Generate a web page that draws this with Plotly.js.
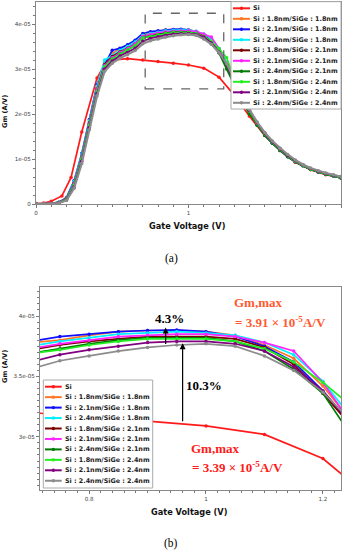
<!DOCTYPE html>
<html><head><meta charset="utf-8">
<script src="https://cdn.plot.ly/plotly-3.0.1.min.js"></script>
<style>html,body{margin:0;padding:0;background:#fff;}#chart{width:342px;height:551px;}</style>
</head><body><div id="chart"></div>
<script>
// ---- data (Gm in units of 1e-5 A/V) ----
const seriesNames = ['Si','Si : 1.8nm/SiGe : 1.8nm','Si : 2.1nm/SiGe : 1.8nm','Si : 2.4nm/SiGe : 1.8nm',
  'Si : 1.8nm/SiGe : 2.1nm','Si : 2.1nm/SiGe : 2.1nm','Si : 2.4nm/SiGe : 2.1nm',
  'Si : 1.8nm/SiGe : 2.4nm','Si : 2.1nm/SiGe : 2.4nm','Si : 2.4nm/SiGe : 2.4nm'];
const seriesColors = ['#ff1a1a','#ff7722','#1010ff','#00f0ff','#7a0000','#ff22ff','#007a00','#22ee22','#800080','#8c8c8c'];

const vSi  = [0,0.05,0.1,0.17,0.23,0.3,0.4,0.45,0.5,0.6,0.7,0.8,0.9,1.0,1.1,1.2,1.3,1.4,1.5,1.6,1.7,1.8,1.9,2.0];
const gmSi = [0.01,0.02,0.06,0.18,0.59,1.6,2.8,3.1,3.2,3.23,3.2,3.17,3.13,3.09,3.02,2.82,2.42,1.95,1.52,1.19,0.93,0.76,0.65,0.58];

const vGrid = [0,0.05,0.1,0.15,0.2,0.25,0.3,0.35,0.4,0.45,0.5,0.55,0.6,0.65,0.7,0.75,0.8,0.85,0.9,0.95,
  1.0,1.05,1.1,1.15,1.2,1.25,1.3,1.35,1.4,1.45,1.5,1.55,1.6,1.65,1.7,1.75,1.8,1.85,1.9,1.95,2.0];

const gm18_18 = [0,0.005,0.01,0.04,0.13,0.5,1.1,1.85,2.6,3.15,3.35,3.45,3.53,3.63,3.78,3.80,3.84,3.87,3.88,3.88,
  3.87,3.84,3.76,3.65,3.42,3.12,2.72,2.36,2.04,1.78,1.55,1.37,1.21,1.07,0.95,0.86,0.78,0.72,0.67,0.63,0.59];
const gm21_18 = [0,0.005,0.01,0.04,0.14,0.52,1.12,1.88,2.65,3.1,3.42,3.46,3.54,3.64,3.79,3.83,3.85,3.87,3.88,3.885,
  3.87,3.83,3.75,3.62,3.38,3.08,2.7,2.34,2.02,1.76,1.53,1.35,1.19,1.05,0.94,0.85,0.77,0.71,0.66,0.62,0.58];
const gm24_18 = [0,0.005,0.01,0.04,0.13,0.5,1.1,1.85,2.62,3.2,3.3,3.42,3.5,3.6,3.75,3.79,3.82,3.85,3.86,3.87,
  3.86,3.84,3.78,3.68,3.46,3.15,2.74,2.38,2.05,1.78,1.55,1.37,1.21,1.07,0.95,0.86,0.78,0.72,0.67,0.63,0.59];
const gm18_21 = [0,0.005,0.01,0.035,0.12,0.46,1.05,1.8,2.55,3.1,3.28,3.38,3.46,3.56,3.72,3.76,3.79,3.81,3.83,3.83,
  3.83,3.81,3.74,3.6,3.36,3.08,2.7,2.35,2.04,1.77,1.55,1.36,1.2,1.06,0.95,0.86,0.78,0.72,0.67,0.63,0.59];
const gm21_21 = [0,0.004,0.008,0.03,0.11,0.45,1.04,1.78,2.55,3.08,3.25,3.36,3.45,3.56,3.73,3.77,3.80,3.83,3.84,3.85,
  3.85,3.83,3.78,3.71,3.45,3.10,2.76,2.4,2.06,1.8,1.57,1.38,1.22,1.08,0.96,0.87,0.79,0.73,0.68,0.64,0.61];
const gm24_21 = [0,0.004,0.008,0.03,0.1,0.42,1.0,1.75,2.5,3.05,3.22,3.33,3.42,3.52,3.69,3.73,3.77,3.8,3.82,3.82,
  3.82,3.79,3.71,3.56,3.36,3.0,2.64,2.3,2.0,1.75,1.53,1.35,1.19,1.05,0.94,0.85,0.77,0.71,0.66,0.62,0.58];
const gm18_24 = [0,0.004,0.008,0.03,0.1,0.42,1.0,1.75,2.5,3.05,3.22,3.33,3.42,3.52,3.69,3.72,3.76,3.79,3.81,3.81,
  3.81,3.79,3.73,3.62,3.45,3.25,2.8,2.4,2.06,1.79,1.56,1.37,1.21,1.07,0.95,0.86,0.78,0.72,0.67,0.63,0.59];
const gm21_24 = [0,0.003,0.007,0.025,0.09,0.38,0.95,1.7,2.45,3.0,3.18,3.29,3.37,3.46,3.62,3.68,3.72,3.75,3.78,3.79,
  3.79,3.77,3.71,3.58,3.38,3.1,2.75,2.4,2.08,1.8,1.57,1.38,1.22,1.08,0.96,0.87,0.79,0.73,0.68,0.64,0.6];
const gm24_24 = [0,0.003,0.006,0.02,0.08,0.35,0.9,1.65,2.4,2.95,3.13,3.24,3.32,3.41,3.56,3.63,3.67,3.71,3.74,3.76,
  3.77,3.75,3.67,3.55,3.37,3.12,2.78,2.43,2.1,1.82,1.59,1.4,1.24,1.1,0.98,0.88,0.8,0.74,0.69,0.65,0.61];

const fullXTicks = [0,1,2], fullXText = ['0','1','2'];
const fullYTicks = [0,1,2,3,4], fullYText = ['0','1e-05','2e-05','3e-05','4e-05'];
const zoomXTicks = [0.8,1,1.2], zoomXText = ['0.8','1','1.2'];
const zoomYTicks = [3,3.5,4], zoomYText = ['3e-05','3.5e-05','4e-05'];
const zoomXRange = [0.716,1.231], zoomYRange = [2.56,4.24];

// ---- build ----
const W=342, H=551;
const px = x => x/W, py = y => 1 - y/H;
const xs = [vSi,vGrid,vGrid,vGrid,vGrid,vGrid,vGrid,vGrid,vGrid,vGrid];
const ys = [gmSi,gm18_18,gm21_18,gm24_18,gm18_21,gm21_21,gm24_21,gm18_24,gm21_24,gm24_24];
const traces = [];
[['x','y'],['x2','y2']].forEach(([xa,ya])=>{
  ys.forEach((y,i)=>{
    traces.push({x:xs[i], y:y, xaxis:xa, yaxis:ya, type:'scatter', mode:'lines+markers',
      name:seriesNames[i], showlegend:false,
      line:{color:seriesColors[i], width:(i===9 && xa==='x') ? 2.2 : 1.7}, marker:{color:seriesColors[i], size:3.5}});
  });
});

const shapes = [], annotations = [];
shapes.push({type:'rect', xref:'x', yref:'y', x0:zoomXRange[0], x1:zoomXRange[1], y0:zoomYRange[0], y1:zoomYRange[1],
  line:{color:'#666', width:1.3, dash:'dash'}, layer:'above'});

function legendBox(left, top, right, bottom, row0, step, lx0, lx1, tx){
  shapes.push({type:'rect', xref:'paper', yref:'paper', x0:px(left), x1:px(right), y0:py(bottom), y1:py(top),
    fillcolor:'#fff', line:{color:'#aaa', width:1}, layer:'above'});
  seriesNames.forEach((n,i)=>{
    const y = row0 + step*i;
    shapes.push({type:'line', xref:'paper', yref:'paper', x0:px(lx0), x1:px(lx1), y0:py(y), y1:py(y),
      line:{color:seriesColors[i], width:2}, layer:'above'});
    const mx=(lx0+lx1)/2, r=1.7;
    shapes.push({type:'circle', xref:'paper', yref:'paper', x0:px(mx-r), x1:px(mx+r), y0:py(y+r), y1:py(y-r),
      fillcolor:seriesColors[i], line:{width:0}, layer:'above'});
    annotations.push({xref:'paper', yref:'paper', x:px(tx), y:py(y), xanchor:'left', yanchor:'middle',
      text:'<b>'+n+'</b>', showarrow:false, font:{family:'DejaVu Sans', size:6.4, color:'#222'}});
  });
}
legendBox(231, 1.7, 341, 109, 8.3, 10.5, 233, 250, 251);
legendBox(43.3, 380, 152.7, 488, 386.7, 10.45, 45, 61.7, 63);

const titleFont = {family:'DejaVu Sans', size:8.2, color:'#111'};
const yTitleFont = {family:'DejaVu Sans', size:6.6, color:'#111'};
const serif = 'Liberation Serif';
function txt(x, y, text, font, xa, extra){
  return Object.assign({xref:'paper', yref:'paper', x:px(x), y:py(y), text:text, showarrow:false,
    xanchor:xa||'center', yanchor:'middle', font:font}, extra||{});
}
annotations.push(
  txt(5, 112, '<b>Gm (A/V)</b>', yTitleFont, 'center', {textangle:-90}),
  txt(5, 367, '<b>Gm (A/V)</b>', yTitleFont, 'center', {textangle:-90}),
  txt(187, 226, '<b>Gate Voltage (V)</b>', titleFont),
  txt(189, 512, '<b>Gate Voltage (V)</b>', titleFont),
  txt(171, 258, '(a)', {family:serif, size:11.5, color:'#000'}),
  txt(171, 543, '(b)', {family:serif, size:11.5, color:'#000'}),
  txt(169, 318, '<b>4.3%</b>', {family:serif, size:13, color:'#000'}),
  txt(203.5, 385, '<b>10.3%</b>', {family:serif, size:13, color:'#000'}),
  txt(232, 302, '<b>Gm,max</b>', {family:serif, size:13, color:'#ff5a30'}, 'left'),
  txt(233, 322, '<b>= 3.91 × 10<sup>-5</sup>A/V</b>', {family:serif, size:13, color:'#ff5a30'}, 'left'),
  txt(188.5, 448, '<b>Gm,max</b>', {family:serif, size:13, color:'#ff1a1a'}, 'left'),
  txt(190, 467, '<b>= 3.39 × 10<sup>-5</sup>A/V</b>', {family:serif, size:13, color:'#ff1a1a'}, 'left'),
  {xref:'x2', yref:'y2', axref:'x2', ayref:'y2', x:0.931, y:3.905, ax:0.931, ay:3.755, text:'', showarrow:true,
    arrowhead:2, arrowsize:1, arrowwidth:1.2, arrowcolor:'#000', standoff:0, startstandoff:0},
  {xref:'x2', yref:'y2', axref:'x2', ayref:'y2', x:0.960, y:3.775, ax:0.960, ay:3.116, text:'', showarrow:true,
    arrowhead:2, arrowsize:1, arrowwidth:1.2, arrowcolor:'#000', standoff:0, startstandoff:0}
);

const tickFont = {family:'DejaVu Sans', size:5.6, color:'#444'};
const axCommon = {showline:true, linecolor:'#888', linewidth:1, mirror:true, zeroline:false, showgrid:false,
  ticks:'outside', ticklen:3, tickwidth:1, tickcolor:'#777', tickfont:tickFont, tickmode:'array'};

const layout = {
  width:W, height:H, margin:{l:0,r:0,t:0,b:0}, paper_bgcolor:'#fff', plot_bgcolor:'#fff', showlegend:false,
  xaxis:Object.assign({}, axCommon, {domain:[px(36),px(341)], anchor:'y', range:[0,2], tickvals:fullXTicks, ticktext:fullXText,
    minor:{tickmode:'linear', tick0:0, dtick:0.1, ticks:'outside', ticklen:1.8, tickcolor:'#777'}}),
  yaxis:Object.assign({}, axCommon, {domain:[py(204),py(2)], anchor:'x', range:[0,4.49], tickvals:fullYTicks, ticktext:fullYText,
    minor:{tickmode:'linear', tick0:0, dtick:0.2, ticks:'outside', ticklen:1.8, tickcolor:'#777'}}),
  xaxis2:Object.assign({}, axCommon, {domain:[px(40),px(341)], anchor:'y2', range:zoomXRange, tickvals:zoomXTicks, ticktext:zoomXText,
    minor:{tickmode:'linear', tick0:0, dtick:0.02, ticks:'outside', ticklen:1.8, tickcolor:'#777'}}),
  yaxis2:Object.assign({}, axCommon, {domain:[py(490),py(287)], anchor:'x2', range:zoomYRange, tickvals:zoomYTicks, ticktext:zoomYText,
    minor:{tickmode:'linear', tick0:0, dtick:0.05, ticks:'outside', ticklen:1.8, tickcolor:'#777'}}),
  shapes:shapes, annotations:annotations
};
Plotly.newPlot('chart', traces, layout, {staticPlot:true, displayModeBar:false});
</script>
</body></html>
